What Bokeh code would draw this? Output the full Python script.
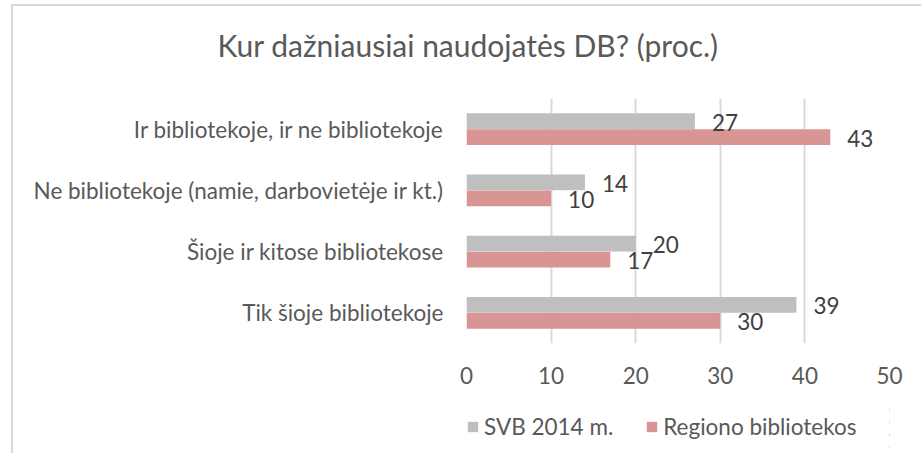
from bokeh.plotting import figure
from bokeh.layouts import column
from bokeh.models import (FactorRange, Range1d, FixedTicker, Title, Legend, LegendItem,
                          ColumnDataSource)
from bokeh.transform import dodge
from bokeh.core.properties import value
from bokeh.embed import file_html
from bokeh.resources import INLINE

# ---- data ----
categories = [
    "Tik šioje bibliotekoje",
    "Šioje ir kitose bibliotekose",
    "Ne bibliotekoje (namie, darbovietėje ir kt.)",
    "Ir bibliotekoje, ir ne bibliotekoje",
]
svb_2014 = [39, 20, 14, 27]
regiono = [30, 17, 10, 43]
series_names = ["SVB 2014 m.", "Regiono bibliotekos"]
x_ticks = [0, 10, 20, 30, 40, 50]
title_text = "Kur dažniausiai naudojatės DB? (proc.)"

FONT = "Lato"
FS = "22.5px"
GRAY = "#BFBFBF"
RED = "#D99594"
TXT = "#595959"

src = ColumnDataSource(dict(cat=categories, svb=svb_2014, reg=regiono,
                            svb_lbl=[str(v) for v in svb_2014],
                            reg_lbl=[str(v) for v in regiono]))

# ---------------- main chart ----------------
p = figure(frame_width=423, frame_height=245, output_backend="svg", toolbar_location=None,
           y_range=FactorRange(factors=categories), x_range=Range1d(0, 50),
           min_border_left=453, min_border_right=32, min_border_top=92, min_border_bottom=60)
p.outline_line_color = None
p.background_fill_color = "white"
p.border_fill_color = "white"

p.hbar(y=dodge("cat", 0.13, range=p.y_range), right="svb", left=0, height=0.255,
       source=src, fill_color=GRAY, line_color=None)
p.hbar(y=dodge("cat", -0.13, range=p.y_range), right="reg", left=0, height=0.255,
       source=src, fill_color=RED, line_color=None)

for col, lbl, off in [("svb", "svb_lbl", 0.13), ("reg", "reg_lbl", -0.13)]:
    p.text(x=col, y=dodge("cat", off, range=p.y_range), text=lbl, source=src,
           x_offset=17, y_offset=1, text_align="left", text_baseline="middle",
           text_font=value(FONT), text_font_size=FS, text_color="#404040")

p.xaxis.ticker = FixedTicker(ticks=x_ticks)
p.xaxis.axis_line_color = None
p.xaxis.major_tick_line_color = None
p.xaxis.minor_tick_line_color = None
p.xaxis.major_tick_in = 0
p.xaxis.major_tick_out = 0
p.xaxis.major_label_standoff = 23
p.xaxis.major_label_text_font = FONT
p.xaxis.major_label_text_font_size = FS
p.xaxis.major_label_text_color = TXT

p.yaxis.axis_line_color = None
p.yaxis.major_tick_line_color = None
p.yaxis.major_tick_in = 0
p.yaxis.major_tick_out = 0
p.yaxis.major_label_standoff = 23
p.yaxis.major_label_text_font = FONT
p.yaxis.major_label_text_font_size = FS
p.yaxis.major_label_text_color = TXT

p.xgrid.grid_line_color = "#D9D9D9"
p.xgrid.grid_line_width = 2
p.ygrid.grid_line_color = None

# spacer between frame and title, then the title itself
p.add_layout(Title(text=" ", text_font_size="1px", standoff=31), "above")
p.add_layout(Title(text=title_text, align="left", offset=-249, standoff=0,
                   vertical_align="top",
                   text_font=FONT, text_font_size="30px", text_font_style="normal",
                   text_color=TXT), "above")

# ---------------- legend strip ----------------
lg = figure(width=908, height=50, output_backend="svg", toolbar_location=None,
            x_axis_type=None, y_axis_type=None,
            y_range=FactorRange(factors=categories), x_range=Range1d(-100, -60),
            min_border=0)
lg.outline_line_color = None
lg.background_fill_color = "white"
lg.border_fill_color = "white"
# same series, drawn outside the visible range: only their legend swatches show
l1 = lg.hbar(y="cat", right="svb", left=0, height=0.255, source=src,
             fill_color=GRAY, line_color=None)
l2 = lg.hbar(y="cat", right="reg", left=0, height=0.255, source=src,
             fill_color=RED, line_color=None)

legend = Legend(items=[LegendItem(label=series_names[0], renderers=[l1]),
                       LegendItem(label=series_names[1], renderers=[l2])],
                orientation="horizontal", location=(0, 13),
                glyph_width=13, glyph_height=13, label_standoff=5, spacing=32,
                padding=0, margin=0, border_line_color=None, background_fill_alpha=0,
                label_text_font=FONT, label_text_font_size=FS, label_text_color=TXT)
lg.add_layout(legend, "center")

layout = column(p, lg, spacing=0,
                styles={"margin-left": "11px", "margin-top": "4px",
                        "border-left": "2px solid #D9D9D9", "border-top": "2px solid #D9D9D9"})

open("out.html", "w").write(file_html(layout, INLINE))
